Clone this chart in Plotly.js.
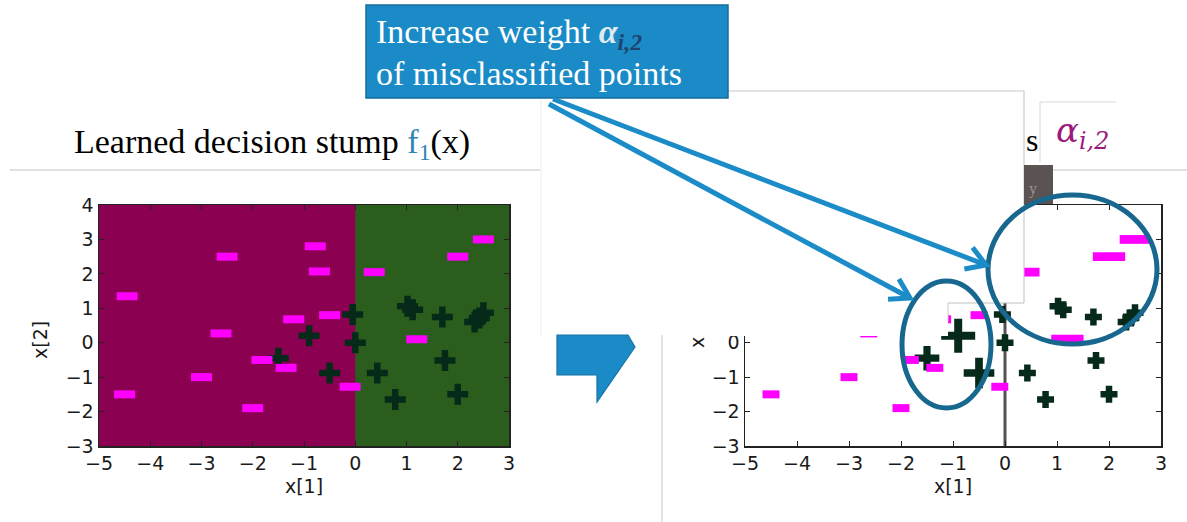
<!DOCTYPE html>
<html><head><meta charset="utf-8">
<script src="https://cdn.plot.ly/plotly-3.0.1.min.js"></script>
<style>html,body{margin:0;padding:0;background:#fff;}#chart{width:1187px;height:522px;}</style>
</head><body><div id="chart"></div>
<script>
// ---- data ----
const minusX = [-4.45, -2.5, -0.78, -0.7, 0.37, 2.0, 2.5, -1.2, -0.5, -2.62, 1.2, -1.82, -1.35, -3.0, -4.5, -0.1, -2.0];
const minusY = [1.35, 2.5, 2.8, 2.07, 2.05, 2.5, 3.0, 0.68, 0.8, 0.27, 0.1, -0.5, -0.73, -1.0, -1.5, -1.28, -1.9];
const plusX  = [-0.05, 0.0, -0.9, -1.5, -0.5, 0.43, 0.78, 1.02, 1.12, 1.7, 1.75, 2.0, 2.33, 2.42, 2.5];
const plusY  = [0.82, 0.0, 0.2, -0.45, -0.88, -0.88, -1.65, 1.06, 0.96, 0.75, -0.52, -1.5, 0.6, 0.72, 0.87];
// weights alpha_{i,2} (relative marker weight in the right plot)
const minusW = [1, 1, 1, 1, 1.8, 1.9, 1.8, 1, 1, 1, 1.9, 1, 1, 1, 1, 1, 1];
const plusW  = [1, 1, 2.0, 1.45, 1.8, 1, 1, 1, 1, 1, 1, 1, 1, 1, 1];
const stumpSplit = 0;
const xTicks = [-5, -4, -3, -2, -1, 0, 1, 2, 3];
const yTicks = [-3, -2, -1, 0, 1, 2, 3, 4];

// ---- helpers (pixel -> paper) ----
const W = 1187, H = 522;
const X = p => p / W, Y = p => 1 - p / H;
const MAG = '#ff00ff', DARK = '#062a1a', BLUE = '#1b8cc8', RING = '#17678f';
const K = 1 / 1.4; // plotly line symbols are 1.4x the marker size

const traces = [
  {x: plusX, y: plusY, mode: 'markers', xaxis: 'x', yaxis: 'y',
   marker: {symbol: 'cross-thin', size: 21 * K, opacity: 1, color: DARK, line: {color: DARK, width: 6.5}}},
  {x: minusX, y: minusY, mode: 'markers', xaxis: 'x', yaxis: 'y',
   marker: {symbol: 'line-ew', size: 21 * K, opacity: 1, color: MAG, line: {color: MAG, width: 8}}},
  {x: plusX, y: plusY, mode: 'markers', xaxis: 'x2', yaxis: 'y2',
   marker: {symbol: 'cross-thin', size: plusW.map(w => 17 * w * K), opacity: 1, color: DARK,
            line: {color: DARK, width: plusW.map(w => 6.5 + (w - 1) * 1.5)}}},
  {x: minusX, y: minusY, mode: 'markers', xaxis: 'x2', yaxis: 'y2',
   marker: {symbol: 'line-ew', size: minusW.map(w => 17 * w * K), opacity: 1, color: MAG,
            line: {color: MAG, width: minusW.map(w => 8 + (w - 1) * 1)}}}
];

function axis(dom, rng, ticks, anchor, title) {
  const a = {domain: dom, range: rng, anchor: anchor, tickmode: 'array', tickvals: ticks,
    ticks: 'inside', ticklen: 5, tickwidth: 1, tickcolor: '#222', mirror: 'ticks',
    showline: true, linecolor: '#222', linewidth: 1.5, showgrid: false, zeroline: false,
    tickfont: {family: 'DejaVu Sans', size: 19, color: '#1a1a1a'}, fixedrange: true};
  if (title) a.title = {text: title, font: {family: 'DejaVu Sans', size: 19, color: '#1a1a1a'}, standoff: 6};
  return a;
}

const shapes = [];
// left plot decision regions
shapes.push({type: 'rect', xref: 'x', yref: 'y', x0: -5, x1: 3, y0: -3, y1: 4, layer: 'below', fillcolor: '#8b0050', line: {width: 0}});
shapes.push({type: 'rect', xref: 'x', yref: 'y', x0: stumpSplit, x1: 3, y0: -3, y1: 4, layer: 'below', fillcolor: '#2b5e1c', line: {width: 0}});
// right plot split line
shapes.push({type: 'line', xref: 'x2', yref: 'y2', x0: stumpSplit, x1: stumpSplit, y0: -3, y1: 4, layer: 'below', line: {color: '#555050', width: 3}});

function prect(x0, y0, x1, y1, fill, lc, lw) {
  shapes.push({type: 'rect', xref: 'paper', yref: 'paper', x0: X(x0), x1: X(x1), y0: Y(y1), y1: Y(y0),
    fillcolor: fill, line: {color: lc || 'rgba(0,0,0,0)', width: lw || 0}});
}
function pline(x0, y0, x1, y1, c, w) {
  shapes.push({type: 'line', xref: 'paper', yref: 'paper', x0: X(x0), x1: X(x1), y0: Y(y0), y1: Y(y1), line: {color: c, width: w}});
}
// occluding white slide boxes over the right plot
prect(541, 90, 1024, 303, '#ffffff');
prect(662, 300, 948, 336, '#ffffff');
prect(541, 300, 662, 336, '#ffffff');
pline(541, 91, 1024, 91, '#c8c8c8', 1);
pline(1024, 91, 1024, 303, '#c0c0c0', 1);
pline(948, 303, 1024, 303, '#c0c0c0', 1);
pline(948, 303, 948, 322, '#c8c8c8', 1);
pline(541, 91, 541, 336, '#ececec', 1);
// panel borders
pline(10, 170, 540, 170, '#c4c4c4', 1.2);
pline(1053, 170, 1187, 170, '#c4c4c4', 1.2);
pline(662, 335, 662, 522, '#d0d0d0', 1.2);
// dark box at top of right plot
prect(1024, 165, 1053, 204, '#5b5252');
// alpha label box
prect(1040, 102, 1116, 162, '#ffffff');
pline(1040, 102, 1116, 102, '#d8d8d8', 1);
pline(1040, 102, 1040, 162, '#d8d8d8', 1);
// callout box
prect(366, 5, 728, 98, '#1a8bc6', '#166f9e', 1.5);
// blue block arrow in the middle
const pent = [[557, 335], [628, 335], [635, 347], [597, 402], [597, 375], [557, 375]];
shapes.push({type: 'path', xref: 'paper', yref: 'paper',
  path: 'M' + pent.map(p => X(p[0]) + ',' + Y(p[1])).join(' L') + ' Z',
  fillcolor: '#1a8bc6', line: {color: '#1873a6', width: 1.2}});
// ellipses
shapes.push({type: 'circle', xref: 'paper', yref: 'paper', x0: X(902), x1: X(991), y0: Y(408), y1: Y(281), line: {color: RING, width: 5}});
shapes.push({type: 'circle', xref: 'paper', yref: 'paper', x0: X(988), x1: X(1157), y0: Y(344), y1: Y(195), line: {color: RING, width: 5}});
// arrows
function arrow(sx, sy, tx, ty) {
  pline(sx, sy, tx, ty, BLUE, 5);
  const ang = Math.atan2(ty - sy, tx - sx), L = 22, a = 0.55;
  const p1 = [tx - L * Math.cos(ang - a), ty - L * Math.sin(ang - a)];
  const p2 = [tx - L * Math.cos(ang + a), ty - L * Math.sin(ang + a)];
  shapes.push({type: 'path', xref: 'paper', yref: 'paper',
    path: `M${X(p1[0])},${Y(p1[1])} L${X(tx)},${Y(ty)} L${X(p2[0])},${Y(p2[1])}`,
    line: {color: BLUE, width: 5}});
}
arrow(553, 99, 986, 265);
arrow(549, 104, 910, 298);

const serif = 'Liberation Serif, Times New Roman, serif';
const ann = [
  {text: 'Learned decision stump <span style="color:#2f86b4">f<sub>1</sub></span>(x)', x: X(272), y: Y(144), xanchor: 'center',
   font: {family: serif, size: 34, color: '#000'}},
  {text: 'Increase weight <b><i><span style="color:#dfe9f0">α</span></i></b><sub><b><i><span style="color:#1f4470">i,2</span></i></b></sub>',
   x: X(374), y: Y(34), xanchor: 'left', font: {family: serif, size: 34, color: '#ffffff'}},
  {text: 'of misclassified points', x: X(374), y: Y(74), xanchor: 'left', font: {family: serif, size: 34, color: '#ffffff'}},
  {text: 's', x: X(1024), y: Y(140), xanchor: 'left', font: {family: serif, size: 32, color: '#000'}},
  {text: '<i>α</i><sub><i>i,2</i></sub>', x: X(1054), y: Y(132), xanchor: 'left', font: {family: 'DejaVu Serif', size: 34, color: '#9c1a7e'}},
  {text: 'y', x: X(1027), y: Y(189), xanchor: 'left', font: {family: serif, size: 16, color: '#9a9494'}},
  {text: 'x[2]', x: X(40), y: Y(340), xanchor: 'center', textangle: -90, font: {family: 'DejaVu Sans', size: 19, color: '#1a1a1a'}},
  {text: 'x', x: X(697), y: Y(343), xanchor: 'center', textangle: -90, font: {family: 'DejaVu Sans', size: 19, color: '#1a1a1a'}}
].map(a => Object.assign({xref: 'paper', yref: 'paper', showarrow: false, yanchor: 'middle'}, a));

const layout = {
  width: W, height: H, margin: {l: 0, r: 0, t: 0, b: 0},
  paper_bgcolor: '#ffffff', plot_bgcolor: '#ffffff', showlegend: false,
  xaxis: axis([X(99), X(509)], [-5, 3], xTicks, 'y', 'x[1]'),
  yaxis: axis([Y(446), Y(205)], [-3, 4], yTicks, 'x', null),
  xaxis2: axis([X(745), X(1161)], [-5, 3], xTicks, 'y2', 'x[1]'),
  yaxis2: axis([Y(446), Y(205)], [-3, 4], yTicks, 'x2', null),
  shapes: shapes, annotations: ann
};
Plotly.newPlot('chart', traces, layout, {displayModeBar: false, staticPlot: true});
</script></body></html>
